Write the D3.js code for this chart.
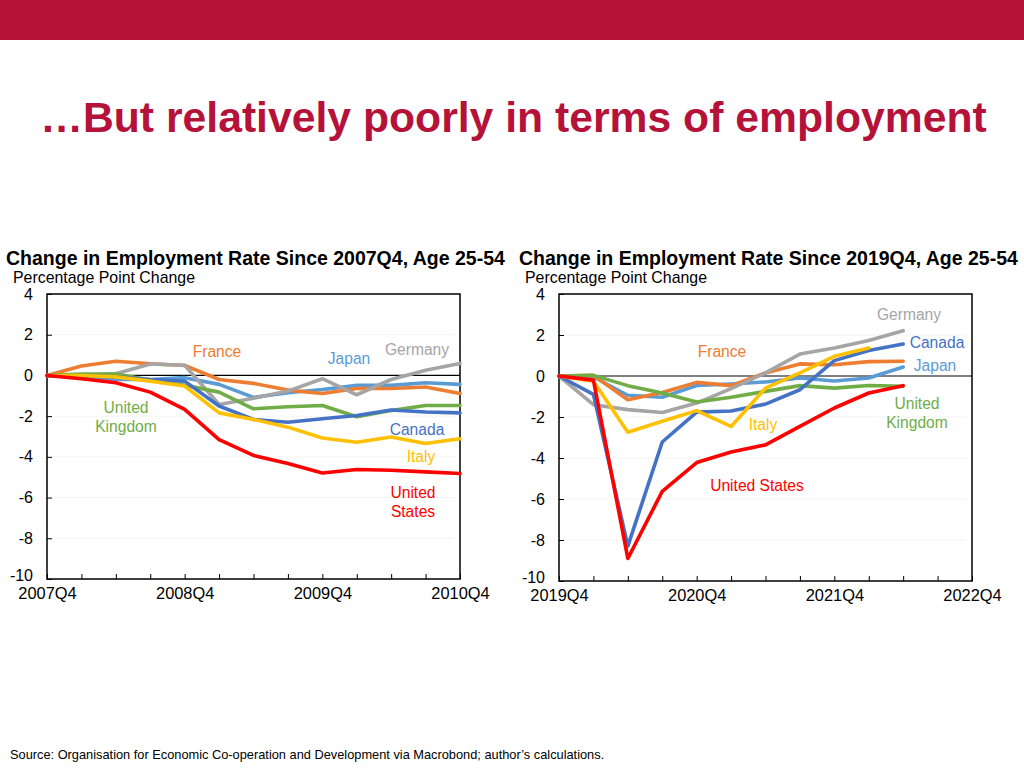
<!DOCTYPE html>
<html>
<head>
<meta charset="utf-8">
<script src="https://cdn.jsdelivr.net/npm/d3@7"></script>
<style>
  html, body { margin: 0; padding: 0; background: #fff; }
  svg { display: block; font-family: "Liberation Sans", Arial, sans-serif; }
</style>
</head>
<body>
<svg id="chart" width="1024" height="768"></svg>
<script>
// ---------------- DATA ----------------
const pageTitle = "\u2026But relatively poorly in terms of employment";
const sourceNote = "Source: Organisation for Economic Co-operation and Development via Macrobond; author\u2019s calculations.";
const leftTitle = "Change in Employment Rate Since 2007Q4, Age 25-54";
const rightTitle = "Change in Employment Rate Since 2019Q4, Age 25-54";
const yAxisLabel = "Percentage Point Change";

const leftQuarters = ["2007Q4","2008Q1","2008Q2","2008Q3","2008Q4","2009Q1","2009Q2","2009Q3","2009Q4","2010Q1","2010Q2","2010Q3","2010Q4"];
const rightQuarters = ["2019Q4","2020Q1","2020Q2","2020Q3","2020Q4","2021Q1","2021Q2","2021Q3","2021Q4","2022Q1","2022Q2","2022Q3","2022Q4"];
const leftTickLabels = ["2007Q4","2008Q4","2009Q4","2010Q4"];
const rightTickLabels = ["2019Q4","2020Q4","2021Q4","2022Q4"];
const yTicks = [4, 2, 0, -2, -4, -6, -8, -10];

const countries = ["Japan","France","Germany","United Kingdom","Canada","Italy","United States"];

// 2007Q4 – 2010Q4
const gfcJapan   = [0, -0.07, -0.20, -0.20, -0.11, -0.44, -1.08, -0.85, -0.69, -0.49, -0.49, -0.36, -0.44];
const gfcFrance  = [0, 0.46, 0.70, 0.57, 0.49, -0.20, -0.39, -0.72, -0.89, -0.64, -0.64, -0.57, -0.89];
const gfcGermany = [0, 0.00, 0.08, 0.56, 0.50, -1.43, -1.12, -0.77, -0.16, -0.95, -0.20, 0.25, 0.59];
const gfcUK      = [0, 0.07, 0.07, -0.23, -0.48, -0.82, -1.64, -1.54, -1.48, -2.03, -1.72, -1.48, -1.48];
const gfcCanada  = [0, -0.03, -0.07, -0.20, -0.28, -1.50, -2.16, -2.30, -2.13, -1.97, -1.70, -1.80, -1.84];
const gfcItaly   = [0, 0.00, -0.07, -0.28, -0.52, -1.84, -2.16, -2.54, -3.07, -3.28, -3.02, -3.34, -3.11];
const gfcUS      = [0, -0.16, -0.36, -0.82, -1.67, -3.15, -3.93, -4.33, -4.79, -4.62, -4.66, -4.74, -4.82];

// 2019Q4 – 2022Q2 (Italy to 2022Q1)
const covJapan   = [0, -0.05, -0.94, -1.04, -0.46, -0.39, -0.29, -0.10, -0.24, -0.10, 0.44];
const covFrance  = [0, 0.03, -1.16, -0.80, -0.31, -0.47, 0.15, 0.59, 0.55, 0.70, 0.72];
const covGermany = [0, -1.40, -1.64, -1.78, -1.32, -0.62, 0.15, 1.07, 1.37, 1.73, 2.21];
const covUK      = [0, 0.03, -0.47, -0.83, -1.27, -1.04, -0.75, -0.47, -0.59, -0.46, -0.50];
const covCanada  = [0, -0.90, -8.30, -3.22, -1.76, -1.71, -1.37, -0.67, 0.75, 1.24, 1.56];
const covItaly   = [0, -0.26, -2.74, -2.21, -1.69, -2.46, -0.59, 0.15, 0.96, 1.37];
const covUS      = [0, -0.20, -8.90, -5.63, -4.22, -3.71, -3.36, -2.46, -1.56, -0.83, -0.47];

// ---------------- STYLE ----------------
const colorOf = {
  "Japan": "#5B9BD5", "France": "#ED7D31", "Germany": "#A5A5A5",
  "United Kingdom": "#70AD47", "Canada": "#4472C4", "Italy": "#FFC000",
  "United States": "#FF0000"
};
const red = "#B5123A";

const svg = d3.select("#chart");

// header band & title
svg.append("rect").attr("x", 0).attr("y", 0).attr("width", 1024).attr("height", 40).attr("fill", red);
svg.append("text").attr("x", 513.5).attr("y", 132).attr("text-anchor", "middle")
  .attr("font-size", 42.7).attr("font-weight", "bold").attr("fill", red).text(pageTitle);

svg.append("text").attr("x", 10).attr("y", 759).attr("font-size", 12.8).attr("fill", "#000").text(sourceNote);

function panel(opts) {
  const { left, right, top, bottom, quarters, tickLabels, series, labels, title, titleX, subX } = opts;
  const g = svg.append("g");
  const x = d3.scaleLinear().domain([0, quarters.length - 1]).range([left, right]);
  const y = d3.scaleLinear().domain([-10, 4]).range([bottom, top]);

  g.append("text").attr("x", titleX).attr("y", 265).attr("font-size", 19.5).attr("font-weight", "bold").text(title);
  g.append("text").attr("x", subX).attr("y", 283).attr("font-size", 15.9).text(yAxisLabel);

  // faint gridlines
  g.append("g").selectAll("line").data(yTicks.filter(d => d !== 0 && d !== 4 && d !== -10)).join("line")
    .attr("x1", left + 6).attr("x2", right - 6)
    .attr("y1", d => y(d)).attr("y2", d => y(d))
    .attr("stroke", "#f3f3f3").attr("stroke-width", 1);

  // y axis
  const ya = g.append("g").attr("transform", `translate(${left},0)`)
    .call(d3.axisLeft(y).tickValues(yTicks).tickSizeInner(-5).tickSizeOuter(0).tickPadding(14).tickFormat(d => String(d)));
  ya.select(".domain").remove();
  ya.selectAll("line").attr("stroke", "#000");
  ya.selectAll("text").attr("font-size", 16).attr("font-family", "Liberation Sans, Arial, sans-serif").attr("fill", "#000");
  ya.selectAll(".tick").filter(d => d === -10).select("text").attr("y", -4);

  // x axis
  const xa = g.append("g").attr("transform", `translate(0,${bottom})`)
    .call(d3.axisBottom(x).tickValues(d3.range(quarters.length)).tickSizeInner(-5).tickSizeOuter(0).tickPadding(8.5)
      .tickFormat(i => tickLabels.includes(quarters[i]) ? quarters[i] : ""));
  xa.select(".domain").remove();
  xa.selectAll("line").attr("stroke", "#000");
  xa.selectAll("text").attr("font-size", 16.4).attr("font-family", "Liberation Sans, Arial, sans-serif").attr("fill", "#000");

  // frame
  g.append("rect").attr("x", left).attr("y", top).attr("width", right - left).attr("height", bottom - top)
    .attr("fill", "none").attr("stroke", "#000").attr("stroke-width", 1.5);

  // zero line
  g.append("line").attr("x1", x(0)).attr("x2", x(quarters.length - 1)).attr("y1", y(0)).attr("y2", y(0))
    .attr("stroke", "#000").attr("stroke-width", 1.2);

  const line = d3.line().x((d, i) => x(i)).y(d => y(d));
  series.forEach(([name, vals]) => {
    g.append("path").datum(vals).attr("d", line).attr("fill", "none")
      .attr("stroke", colorOf[name]).attr("stroke-width", 3.6)
      .attr("stroke-linejoin", "round").attr("stroke-linecap", "round");
  });

  labels.forEach(l => {
    const t = g.append("text").attr("x", l.x).attr("y", l.y).attr("text-anchor", "middle")
      .attr("font-size", 15.6).attr("fill", colorOf[l.name]);
    l.lines.forEach((s, k) => t.append("tspan").attr("x", l.x).attr("dy", k === 0 ? 0 : 19).text(s));
  });
}

panel({
  left: 47, right: 460, top: 294, bottom: 579,
  quarters: leftQuarters, tickLabels: leftTickLabels,
  title: leftTitle, titleX: 6, subX: 13,
  series: [["Japan", gfcJapan], ["France", gfcFrance], ["Germany", gfcGermany], ["United Kingdom", gfcUK],
           ["Canada", gfcCanada], ["Italy", gfcItaly], ["United States", gfcUS]],
  labels: [
    { name: "France", lines: ["France"], x: 217, y: 357 },
    { name: "Japan", lines: ["Japan"], x: 349, y: 364 },
    { name: "Germany", lines: ["Germany"], x: 417, y: 355 },
    { name: "United Kingdom", lines: ["United", "Kingdom"], x: 126, y: 413 },
    { name: "Canada", lines: ["Canada"], x: 417, y: 435 },
    { name: "Italy", lines: ["Italy"], x: 421, y: 462 },
    { name: "United States", lines: ["United", "States"], x: 413, y: 498 }
  ]
});

panel({
  left: 559, right: 972, top: 294, bottom: 581,
  quarters: rightQuarters, tickLabels: rightTickLabels,
  title: rightTitle, titleX: 519, subX: 525,
  series: [["Japan", covJapan], ["France", covFrance], ["Germany", covGermany], ["United Kingdom", covUK],
           ["Canada", covCanada], ["Italy", covItaly], ["United States", covUS]],
  labels: [
    { name: "Germany", lines: ["Germany"], x: 909, y: 320 },
    { name: "Canada", lines: ["Canada"], x: 937, y: 348 },
    { name: "Japan", lines: ["Japan"], x: 935, y: 371 },
    { name: "France", lines: ["France"], x: 722, y: 357 },
    { name: "United Kingdom", lines: ["United", "Kingdom"], x: 917, y: 409 },
    { name: "Italy", lines: ["Italy"], x: 763, y: 430 },
    { name: "United States", lines: ["United States"], x: 757, y: 491 }
  ]
});
</script>
</body>
</html>
